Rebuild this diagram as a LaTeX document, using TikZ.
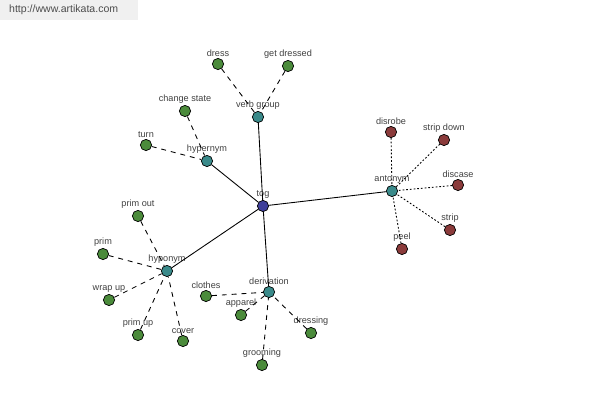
\documentclass[tikz,border=0pt]{standalone}
\usepackage{fontspec}
\setmainfont{Liberation Sans}
\definecolor{togblue}{HTML}{3F3F9A}
\definecolor{relteal}{HTML}{3A8A8A}
\definecolor{wordgreen}{HTML}{4B8B3B}
\definecolor{antred}{HTML}{8B3B3B}
\definecolor{lbltext}{HTML}{404040}
\begin{document}
\begin{tikzpicture}[x=0.02cm,y=-0.02cm,
  dot/.style={circle,draw=black,line width=0.4pt,minimum size=6.4pt,inner sep=0pt},
  lbl/.style={font=\fontsize{5.2}{6}\selectfont,text=lbltext,inner sep=0.6pt},
  every label/.style={lbl},
  hub/.style={dot,fill=togblue},
  rel/.style={dot,fill=relteal},
  word/.style={dot,fill=wordgreen},
  opp/.style={dot,fill=antred},
  mainedge/.style={line width=0.5pt},
  dashedge/.style={line width=0.5pt,dash pattern=on 2.8pt off 2.8pt},
  dotedge/.style={line width=0.5pt,dash pattern=on 1pt off 1.1pt}]
  \useasboundingbox (0,0) rectangle (600,400);
  % watermark
  \fill[gray!12] (0,0) rectangle (138,20);
  \node[font=\fontsize{6}{7}\selectfont,text=gray!60!black,anchor=west] (site) at (3,10) {http://www.artikata.com};
  % centre and relations
  \node[hub,label={above:tog}] (tog) at (263,206) {};
  \node[rel,label={above:verb group}] (vgroup) at (258,117) {};
  \node[rel,label={above:hypernym}] (hyper) at (207,161) {};
  \node[rel,label={above:antonym}] (anto) at (392,191) {};
  \node[rel,label={above:hyponym}] (hypo) at (167,271) {};
  \node[rel,label={above:derivation}] (deriv) at (269,292) {};
  % verb group
  \node[word,label={above:dress}] (dress) at (218,64) {};
  \node[word,label={above:get dressed}] (getdressed) at (288,66) {};
  % hypernym
  \node[word,label={above:change state}] (changestate) at (185,111) {};
  \node[word,label={above:turn}] (turn) at (146,145) {};
  % antonym
  \node[opp,label={above:disrobe}] (disrobe) at (391,132) {};
  \node[opp,label={above:strip down}] (stripdown) at (444,140) {};
  \node[opp,label={above:discase}] (discase) at (458,185) {};
  \node[opp,label={above:strip}] (strip) at (450,230) {};
  \node[opp,label={above:peel}] (peel) at (402,249) {};
  % hyponym
  \node[word,label={above:prim out}] (primout) at (138,216) {};
  \node[word,label={above:prim}] (prim) at (103,254) {};
  \node[word,label={above:wrap up}] (wrapup) at (109,300) {};
  \node[word,label={above:prim up}] (primup) at (138,335) {};
  \node[word,label={above:cover}] (cover) at (183,341) {};
  % derivation
  \node[word,label={above:clothes}] (clothes) at (206,296) {};
  \node[word,label={above:apparel}] (apparel) at (241,315) {};
  \node[word,label={above:dressing}] (dressing) at (311,333) {};
  \node[word,label={above:grooming}] (grooming) at (262,365) {};

  \foreach \r in {vgroup,hyper,anto,hypo,deriv}
    \draw[mainedge] (tog) -- (\r);
  \foreach \w in {dress,getdressed}
    \draw[dashedge] (\w) -- (vgroup);
  \foreach \w in {changestate,turn}
    \draw[dashedge] (\w) -- (hyper);
  \foreach \w in {primout,prim,wrapup,primup,cover}
    \draw[dashedge] (\w) -- (hypo);
  \foreach \w in {clothes,apparel,dressing,grooming}
    \draw[dashedge] (\w) -- (deriv);
  \foreach \w in {disrobe,stripdown,discase,strip,peel}
    \draw[dotedge] (\w) -- (anto);
\end{tikzpicture}
\end{document}
